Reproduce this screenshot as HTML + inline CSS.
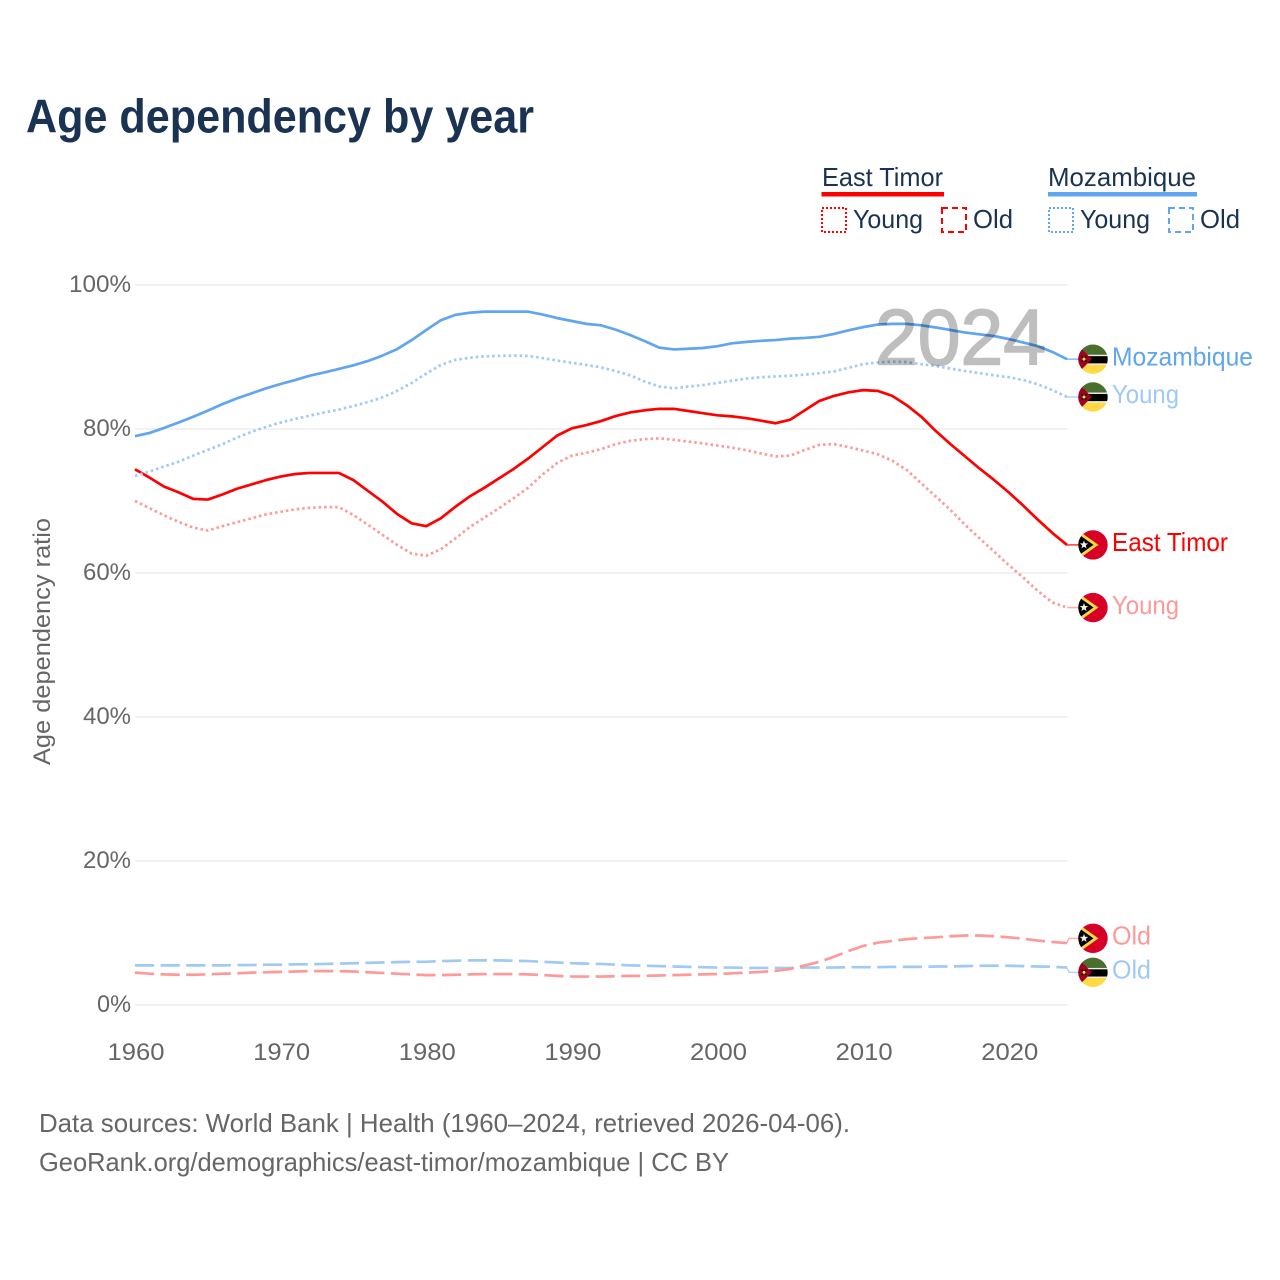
<!DOCTYPE html>
<html lang="en">
<head>
<meta charset="utf-8">
<title>Age dependency by year</title>
<style>
html,body{margin:0;padding:0;background:#fff;}
svg{display:block;}
text{font-family:"Liberation Sans",sans-serif;}
</style>
</head>
<body>
<svg id="chart" xmlns="http://www.w3.org/2000/svg" width="1280" height="1280" viewBox="0 0 1280 1280">
  <rect x="0" y="0" width="1280" height="1280" fill="#ffffff"/>
  <text x="26" y="132.5" font-size="47" font-weight="700" fill="#1a3352" textLength="508" lengthAdjust="spacingAndGlyphs">Age dependency by year</text>

  <g>
    <g>
      <text x="822" y="186" font-size="26" fill="#1a3352" textLength="121" lengthAdjust="spacingAndGlyphs">East Timor</text>
      <rect x="821.5" y="192" width="122.5" height="4.5" fill="#ff0000"/>
      <rect x="822" y="208" width="24" height="24" fill="none" stroke="#ff0000" stroke-width="2" stroke-dasharray="2 2"/>
      <text x="853" y="228" font-size="26" fill="#1a3352" textLength="70" lengthAdjust="spacingAndGlyphs">Young</text>
      <rect x="942" y="208" width="24" height="24" fill="none" stroke="#ff0000" stroke-width="2" stroke-dasharray="6 4"/>
      <text x="973" y="228" font-size="26" fill="#1a3352" textLength="40" lengthAdjust="spacingAndGlyphs">Old</text>
    </g>
    <g>
      <text x="1048" y="186" font-size="26" fill="#1a3352" textLength="148" lengthAdjust="spacingAndGlyphs">Mozambique</text>
      <rect x="1048" y="192" width="149" height="4.5" fill="#60a5f0"/>
      <rect x="1049" y="208" width="24" height="24" fill="none" stroke="#60a5f0" stroke-width="2" stroke-dasharray="2 2"/>
      <text x="1080" y="228" font-size="26" fill="#1a3352" textLength="70" lengthAdjust="spacingAndGlyphs">Young</text>
      <rect x="1169" y="208" width="24" height="24" fill="none" stroke="#60a5f0" stroke-width="2" stroke-dasharray="6 4"/>
      <text x="1200" y="228" font-size="26" fill="#1a3352" textLength="40" lengthAdjust="spacingAndGlyphs">Old</text>
    </g>
  </g>

  <text x="0" y="0" transform="translate(50,641.5) rotate(-90)" text-anchor="middle" font-size="24.5" fill="#666666" textLength="247" lengthAdjust="spacingAndGlyphs">Age dependency ratio</text>

  <g id="grid"></g>
  <g id="yticks"></g>
  <g id="xticks"></g>
  <g id="series"></g>
  <g id="endlabels"></g>

  <text x="875" y="364.5" font-size="79" fill="#000000" stroke="#000000" stroke-width="1.6" opacity="0.25" textLength="171" lengthAdjust="spacingAndGlyphs">2024</text>

  <text x="39" y="1132" font-size="26" fill="#666666" textLength="811" lengthAdjust="spacingAndGlyphs">Data sources: World Bank | Health (1960–2024, retrieved 2026-04-06).</text>
  <text x="39" y="1171" font-size="26" fill="#666666" textLength="690" lengthAdjust="spacingAndGlyphs">GeoRank.org/demographics/east-timor/mozambique | CC BY</text>
</svg>

<script>
const years = [1960,1961,1962,1963,1964,1965,1966,1967,1968,1969,1970,1971,1972,1973,1974,1975,1976,1977,1978,1979,1980,1981,1982,1983,1984,1985,1986,1987,1988,1989,1990,1991,1992,1993,1994,1995,1996,1997,1998,1999,2000,2001,2002,2003,2004,2005,2006,2007,2008,2009,2010,2011,2012,2013,2014,2015,2016,2017,2018,2019,2020,2021,2022,2023,2024];

const mozambiqueTotal = [79.0,79.45,80.15,80.9,81.7,82.55,83.45,84.25,84.95,85.65,86.25,86.8,87.4,87.85,88.35,88.85,89.45,90.2,91.1,92.35,93.75,95.1,95.85,96.15,96.3,96.3,96.3,96.3,95.9,95.4,95.0,94.6,94.4,93.8,93.05,92.2,91.3,91.05,91.15,91.25,91.5,91.9,92.1,92.25,92.35,92.55,92.65,92.8,93.2,93.7,94.15,94.5,94.6,94.6,94.4,94.1,93.75,93.4,93.15,92.9,92.5,92.0,91.5,90.7,89.7];

const mozambiqueYoung = [73.5,74.1,74.8,75.45,76.3,77.1,77.9,78.8,79.6,80.3,80.9,81.4,81.85,82.3,82.7,83.2,83.75,84.4,85.3,86.4,87.7,88.9,89.6,89.9,90.1,90.15,90.2,90.15,89.85,89.5,89.2,88.9,88.55,88.05,87.45,86.6,85.9,85.65,85.9,86.1,86.4,86.7,87.0,87.2,87.3,87.4,87.55,87.75,88.0,88.5,89.0,89.25,89.35,89.3,89.0,88.75,88.4,88.05,87.75,87.45,87.2,86.8,86.2,85.4,84.45];

const mozambiqueOld = [5.5,5.5,5.5,5.5,5.5,5.5,5.5,5.55,5.55,5.6,5.6,5.65,5.65,5.7,5.75,5.8,5.85,5.9,5.95,6.0,6.0,6.1,6.15,6.2,6.2,6.2,6.15,6.1,6.0,5.9,5.8,5.75,5.7,5.6,5.5,5.45,5.4,5.35,5.3,5.25,5.2,5.2,5.15,5.15,5.15,5.15,5.2,5.2,5.2,5.25,5.25,5.25,5.3,5.3,5.3,5.35,5.35,5.4,5.45,5.45,5.45,5.4,5.35,5.3,5.2];

const eastTimorTotal = [74.4,73.25,72.0,71.2,70.3,70.2,70.9,71.7,72.3,72.9,73.4,73.75,73.9,73.9,73.9,72.9,71.4,69.9,68.2,66.9,66.5,67.6,69.2,70.65,71.85,73.15,74.45,75.9,77.5,79.1,80.1,80.55,81.1,81.8,82.3,82.6,82.8,82.8,82.5,82.2,81.9,81.75,81.5,81.15,80.8,81.3,82.6,83.9,84.6,85.1,85.4,85.3,84.6,83.3,81.7,79.7,77.9,76.2,74.5,72.9,71.2,69.35,67.4,65.55,63.9];

const eastTimorYoung = [70.0,69.0,68.0,67.1,66.3,65.9,66.5,67.05,67.6,68.15,68.5,68.85,69.05,69.15,69.15,68.05,66.7,65.3,63.9,62.7,62.4,63.3,64.8,66.4,67.7,69.0,70.4,71.85,73.7,75.3,76.3,76.7,77.2,77.9,78.35,78.6,78.7,78.5,78.25,78.0,77.7,77.4,77.05,76.6,76.2,76.3,77.1,77.8,77.9,77.5,77.0,76.5,75.6,74.3,72.45,70.6,68.75,66.7,64.8,62.95,61.1,59.35,57.5,55.9,55.2];

const eastTimorOld = [4.5,4.35,4.25,4.2,4.2,4.25,4.35,4.4,4.5,4.55,4.6,4.65,4.7,4.7,4.7,4.65,4.55,4.45,4.35,4.25,4.15,4.15,4.2,4.25,4.3,4.3,4.3,4.25,4.15,4.05,3.95,3.95,3.95,4.0,4.05,4.05,4.1,4.15,4.2,4.25,4.3,4.4,4.5,4.6,4.75,5.0,5.5,6.0,6.7,7.5,8.2,8.65,8.9,9.15,9.3,9.4,9.55,9.65,9.65,9.55,9.4,9.2,8.95,8.75,8.6];

const yTickValues = [0,20,40,60,80,100];
const xTickValues = [1960,1970,1980,1990,2000,2010,2020];

const SVGNS = 'http://www.w3.org/2000/svg';
const X0 = 135, X1 = 1067, Y0 = 1005, PX_PER_PCT = 7.2;
function xScale(year){ return X0 + (year - 1960) * (X1 - X0) / 64; }
function yScale(v){ return Y0 - v * PX_PER_PCT; }

function make(tag, parent, attrs){
  const el = document.createElementNS(SVGNS, tag);
  for (const k in attrs) el.setAttribute(k, attrs[k]);
  parent.appendChild(el);
  return el;
}

/* gridlines and y ticks */
const gridG = document.getElementById('grid');
const yTickG = document.getElementById('yticks');
yTickValues.forEach(function(v){
  const line = make('line', gridG, {x1:X0, x2:X1, y1:yScale(v), y2:yScale(v), stroke:'#eeeeee', 'stroke-width':1.5});
  
  
  const label = v + '%';
  const t = make('text', yTickG, {x:131, y:yScale(v)+7, 'text-anchor':'end', 'font-size':24.5, fill:'#666666', textLength:(String(v).length*14+20), lengthAdjust:'spacingAndGlyphs'});
  t.textContent = label;
  
  
});

/* x ticks */
const xTickG = document.getElementById('xticks');
xTickValues.forEach(function(y){
  const t = make('text', xTickG, {x:xScale(y)+1, y:1060, 'text-anchor':'middle', 'font-size':24.5, fill:'#666666', textLength:57, lengthAdjust:'spacingAndGlyphs'});
  t.textContent = String(y);
  
  
});

/* series */
const DOTS = '2.5 3', DASH = '19.2 6.4';
const seriesList = [
  {id:'mozambique-old',   values:mozambiqueOld,   color:'#a0c9f6', dash:DASH, label:'Old',        flag:'mz', tw:39},
  {id:'east-timor-old',   values:eastTimorOld,    color:'#ff9999', dash:DASH, label:'Old',        flag:'tl', tw:39},
  {id:'east-timor-young', values:eastTimorYoung,  color:'#ff9999', dash:DOTS, label:'Young',      flag:'tl', tw:67},
  {id:'east-timor',       values:eastTimorTotal,  color:'#ff0000', dash:null, label:'East Timor', flag:'tl', tw:116},
  {id:'mozambique-young', values:mozambiqueYoung, color:'#a0c9f6', dash:DOTS, label:'Young',      flag:'mz', tw:67},
  {id:'mozambique',       values:mozambiqueTotal, color:'#60a5f0', dash:null, label:'Mozambique', flag:'mz', tw:141}
];

const seriesG = document.getElementById('series');
seriesList.forEach(function(s){
  const d = s.values.map(function(v,i){ return (i ? 'L' : 'M') + xScale(years[i]).toFixed(2) + ' ' + yScale(v).toFixed(2); }).join(' ');
  const p = make('path', seriesG, {d:d, fill:'none', stroke:s.color, 'stroke-width':2.7, 'stroke-linejoin':'round'});
  if (s.dash) p.setAttribute('stroke-dasharray', s.dash);
  
  
});

/* end labels: spread apart so that neighbours keep a minimum gap */
const MIN_GAP = 34;
const ends = seriesList.map(function(s){
  const y = yScale(s.values[s.values.length-1]);
  return {s:s, y0:y, y:y};
}).sort(function(a,b){ return a.y0 - b.y0; });
for (let it=0; it<30; it++){
  for (let i=0; i<ends.length-1; i++){
    const gap = ends[i+1].y - ends[i].y;
    if (gap < MIN_GAP - 0.01){
      const shift = (MIN_GAP - gap)/2;
      ends[i].y -= shift;
      ends[i+1].y += shift;
    }
  }
}

let clipCounter = 0;
function drawFlag(parent, kind, cx, cy){
  const g = make('g', parent, {transform:'translate(' + cx + ' ' + cy.toFixed(2) + ')'});
  const clipId = 'flag-clip-' + (clipCounter++);
  const clip = make('clipPath', g, {id:clipId});
  make('circle', clip, {cx:0, cy:0, r:14.7});
  const body = make('g', g, {'clip-path':'url(#' + clipId + ')'});
  if (kind === 'tl'){
    make('rect', body, {x:-15, y:-15, width:30, height:30, fill:'#d80027'});
    make('polygon', body, {points:'-15,-14.5 5.5,0 -15,14.5', fill:'#ffda44'});
    make('polygon', body, {points:'-15,-11 0.5,0 -15,11', fill:'#000000'});
    make('polygon', body, {points:'-9,-4.5 -7.9,-1.6 -4.8,-1.5 -7.2,0.5 -6.4,3.5 -9,1.8 -11.6,3.5 -10.8,0.5 -13.2,-1.5 -10.1,-1.6', fill:'#eeeeee'});
  } else {
    make('rect', body, {x:-15, y:-15, width:30, height:10.8, fill:'#496e2d'});
    make('rect', body, {x:-15, y:-4.4, width:30, height:1.6, fill:'#eeeeee'});
    make('rect', body, {x:-15, y:-3, width:30, height:7.4, fill:'#000000'});
    make('rect', body, {x:-15, y:4.2, width:30, height:1.6, fill:'#eeeeee'});
    make('rect', body, {x:-15, y:5.6, width:30, height:9.4, fill:'#ffda44'});
    make('polygon', body, {points:'-16,-15 -1.2,0 -16,15', fill:'#a2001d'});
    make('line', body, {x1:-11.5, y1:-2.8, x2:-6.5, y2:2.8, stroke:'#000000', 'stroke-width':1.4});
    make('line', body, {x1:-6.5, y1:-2.8, x2:-11.5, y2:2.8, stroke:'#000000', 'stroke-width':1.4});
    make('circle', body, {cx:-9, cy:0, r:1.5, fill:'#ffda44'});
  }
  return g;
}

const labelG = document.getElementById('endlabels');
ends.forEach(function(e){
  const s = e.s;
  const stub = make('polyline', labelG, {points:X1 + ',' + e.y0.toFixed(2) + ' 1069,' + e.y.toFixed(2) + ' 1079,' + e.y.toFixed(2), fill:'none', stroke:s.color, 'stroke-width':1.5, 'stroke-opacity':0.8});
  
  
  const flag = drawFlag(labelG, s.flag, 1093, e.y);
  
  
  const t = make('text', labelG, {x:1112, y:e.y+6.2, 'font-size':26, fill:s.color, textLength:s.tw, lengthAdjust:'spacingAndGlyphs'});
  t.textContent = s.label;
  
  
});
</script>
</body>
</html>
